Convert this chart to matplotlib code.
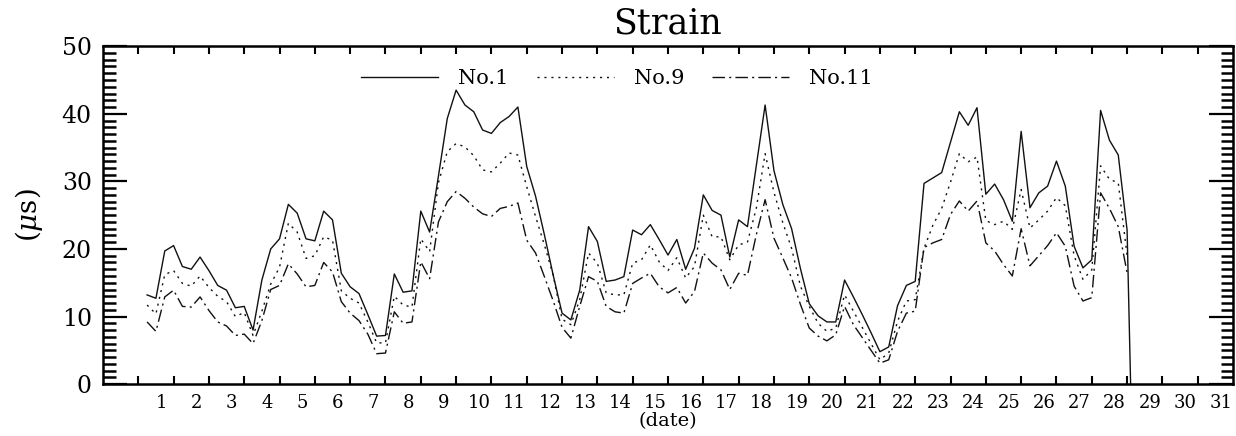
import numpy as np
import matplotlib.pyplot as plt
from matplotlib.ticker import FixedLocator, MultipleLocator

# readings every 6 hours, first one on day 1 at 06:00
first_day = 1.25
step = 0.25

no1 = [13.2, 12.7, 19.7, 20.5, 17.4, 17.0, 18.8, 16.8, 14.6, 13.9, 11.3, 11.5, 8.0, 15.4, 20.0,
       21.5, 26.6, 25.3, 21.5, 21.2, 25.6, 24.3, 16.4, 14.4, 13.4, 10.3, 7.1, 7.2, 16.3, 13.6, 13.8,
       25.6, 22.5, 30.8, 39.3, 43.5,
       41.3, 40.3, 37.6, 37.1, 38.7, 39.6, 41.0, 32.2, 27.8, 22.1, 16.1, 10.5, 9.5, 13.9, 23.3,
       21.1, 15.2, 15.4, 15.9, 22.8, 22.1, 23.6, 21.4, 19.1, 21.4,
       17.0, 20.1, 28.0, 25.7, 25.0, 18.8, 24.3, 23.3, 32.3, 41.3, 31.6, 26.6, 23.0, 17.1, 11.9,
       10.1, 9.2, 9.2, 15.4, 12.9, 10.3, 7.6, 4.8, 5.5, 11.6, 14.6, 15.2, 29.7, 30.5, 31.3, 35.8,
       40.3, 38.3, 40.9,
       28.1, 29.6, 27.3, 24.1, 37.4, 26.1, 28.3, 29.3, 33.0, 29.3, 20.4, 17.2, 18.4, 40.5, 36.1,
       33.9, 22.8]

no9 = [11.7, 10.4, 16.2, 16.8, 14.9, 14.5, 16.0, 14.3, 13.0, 12.2, 10.0, 10.6, 7.2, 10.8, 14.8,
       17.3, 23.8, 22.5, 18.6, 19.0, 21.8, 21.3, 13.8, 12.7, 12.0, 9.2, 6.1, 6.1, 13.0, 11.7, 11.4,
       21.5, 19.6, 29.8, 34.4, 35.6,
       35.1, 33.8, 31.7, 31.4, 32.7, 34.2, 33.9, 29.2, 24.8, 20.6, 16.1, 9.6, 8.8, 12.5, 19.4,
       17.9, 13.5, 13.2, 13.2, 17.9, 18.4, 20.6, 18.1, 16.8, 18.7,
       15.7, 17.4, 25.0, 21.8, 21.8, 18.4, 20.6, 21.0, 26.0, 34.1, 28.4, 23.9, 20.1, 14.5, 11.5,
       9.0, 7.8, 8.3, 13.2, 10.8, 8.4, 6.0, 3.6, 4.6, 9.3, 12.3, 12.5, 20.1, 23.5, 26.0, 29.9,
       34.1, 32.9, 33.6,
       24.2, 23.6, 24.1, 22.9, 28.8, 23.1, 24.3, 25.6, 27.6, 26.4, 19.0, 15.5, 16.9, 32.3, 30.3,
       29.8, 19.0]

no11 = [9.2, 7.8, 12.9, 13.9, 11.5, 11.4, 12.9, 10.9, 9.2, 8.6, 7.2, 7.4, 6.0, 9.4, 14.0,
        14.6, 17.8, 16.3, 14.4, 14.6, 18.0, 16.6, 12.2, 10.5, 9.4, 7.4, 4.5, 4.6, 10.7, 9.0, 9.2,
        18.1, 15.6, 24.0, 27.0, 28.5,
        27.5, 26.2, 25.2, 24.8, 26.0, 26.3, 26.8, 21.3, 19.4, 15.9, 12.3, 8.4, 6.8, 11.5, 15.9,
        15.2, 11.5, 10.7, 10.5, 14.9, 15.7, 16.4, 14.4, 13.5, 14.3,
        12.0, 13.7, 19.4, 17.9, 16.9, 14.0, 16.4, 16.1, 22.1, 27.3, 21.6, 18.7, 15.7, 11.8, 8.3,
        7.1, 6.4, 7.3, 11.5, 8.8, 6.9, 5.0, 3.1, 3.6, 7.8, 10.5, 10.8, 20.2, 20.9, 21.4, 25.1,
        27.1, 25.6, 27.1,
        20.9, 19.7, 17.7, 16.0, 23.0, 17.5, 19.0, 20.5, 22.4, 20.4, 14.5, 12.3, 12.8, 28.3, 26.0,
        23.3, 16.5]

# No.1 falls to zero right after the last reading
end_time = 29.1
end_no1 = 0.0

days = list(range(1, 32))
day_labels = [str(d) for d in days]

t = first_day + step * np.arange(len(no1))

plt.rcParams['font.family'] = 'DejaVu Serif'
plt.rcParams['mathtext.fontset'] = 'dejavuserif'

fig = plt.figure(figsize=(12.36, 4.36), dpi=100)
ax = fig.add_axes([0.0833, 0.119, 0.9143, 0.775])

ax.plot(np.append(t, end_time), no1 + [end_no1], color='#111111', lw=1.0, label='No.1')
ax.plot(t, no9, color='#111111', lw=1.0, ls=(0, (1.5, 3.5)), label='No.9')
ax.plot(t, no11, color='#111111', lw=1.0, ls=(0, (9, 3, 1.5, 3)), label='No.11')

ax.set_xlim(0, 32)
ax.set_ylim(0, 50)

# day ticks on the boundaries, names in the middle of each day
ax.xaxis.set_major_locator(FixedLocator(days))
ax.xaxis.set_minor_locator(FixedLocator([d + 0.65 for d in days]))
ax.set_xticklabels([])
ax.set_xticklabels(day_labels, minor=True)
ax.tick_params(axis='x', which='major', direction='in', length=6, width=1.5, top=True)
ax.tick_params(axis='x', which='minor', length=0, labelsize=13, pad=7)

ax.yaxis.set_major_locator(MultipleLocator(10))
ax.yaxis.set_minor_locator(MultipleLocator(1))
ax.tick_params(axis='y', which='major', direction='in', length=17, width=1.6,
               right=True, labelsize=17, pad=8)
ax.tick_params(axis='y', which='minor', direction='in', length=9, width=1.8, right=True)

for s in ax.spines.values():
    s.set_linewidth(1.8)

ax.set_title('Strain', fontsize=25, pad=9)
ax.set_ylabel(r'($\mu$s)', fontsize=20, labelpad=12)
ax.set_xlabel('(date)', fontsize=14, labelpad=0)

ax.legend(loc='center', bbox_to_anchor=(0.455, 0.905), ncol=3, frameon=False,
          fontsize=15, handlelength=3.7, handletextpad=0.95, columnspacing=1.35)

plt.savefig('out.png', dpi=100)
